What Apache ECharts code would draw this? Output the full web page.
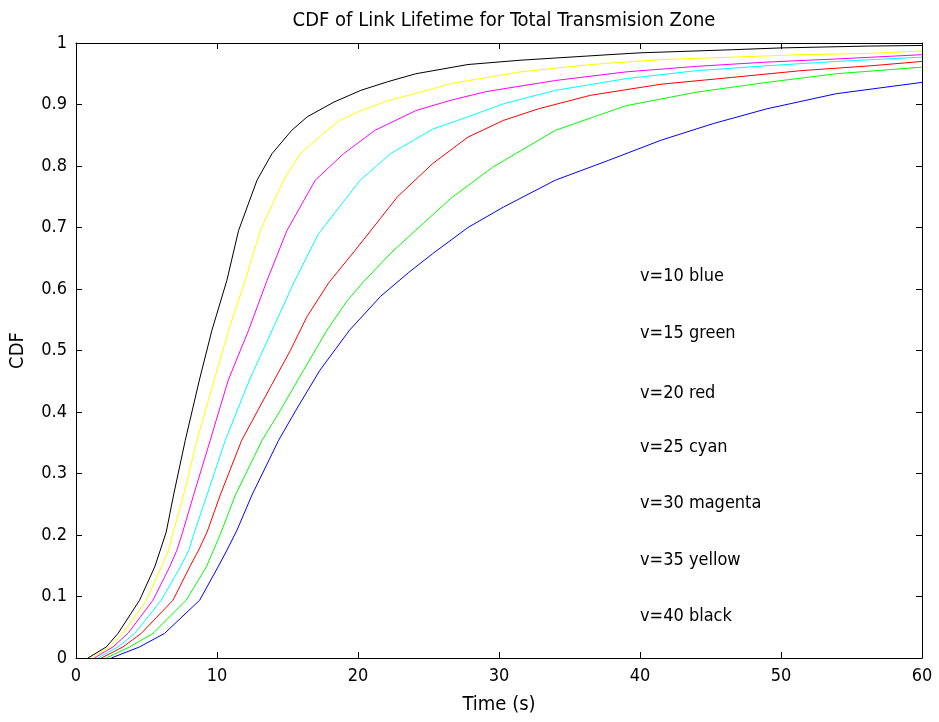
<!DOCTYPE html>
<html>
<head>
<meta charset="utf-8">
<script src="https://cdn.jsdelivr.net/npm/echarts@6/dist/echarts.min.js"></script>
<style>
html,body{margin:0;padding:0;background:#fff;}
#chart{width:939px;height:722px;}
</style>
</head>
<body>
<div id="chart"></div>
<script>
// [time (s), CDF] pairs
const v10blue = [[2.5,0],[4.51,0.018],[6.28,0.04],[8.77,0.094],[10.07,0.148],[10.71,0.1755],[11.42,0.208],[12.48,0.265],[14.37,0.354],[15.6,0.403],[17.3,0.468],[19.4,0.533],[21.6,0.588],[23.6,0.627],[25.3,0.6575],[27.8,0.70],[30.3,0.733],[34,0.777],[37.75,0.809],[41.5,0.842],[45.2,0.869],[49,0.893],[53.9,0.9175],[60,0.936]];
const v15green = [[2.15,0],[3.8,0.018],[5.46,0.04],[7.82,0.094],[9.24,0.148],[9.76,0.1755],[10.3,0.205],[11.3,0.265],[13.2,0.354],[14.5,0.403],[16.14,0.468],[17.8,0.533],[19.2,0.58],[20.4,0.612],[22.4,0.66],[24.07,0.695],[26.56,0.747],[29.55,0.798],[34,0.858],[39,0.898],[44,0.92],[49,0.936],[53.9,0.95],[60,0.9607]];
const v20red = [[1.8,0],[3.33,0.018],[4.63,0.04],[6.88,0.094],[8.06,0.148],[8.7,0.1755],[9.3,0.205],[10.23,0.265],[11.75,0.354],[13.8,0.441],[15.2,0.5],[16.38,0.555],[17.92,0.61],[19.8,0.663],[21.6,0.715],[22.8,0.75],[25.3,0.804],[27.8,0.847],[30.3,0.874],[32.8,0.893],[36.5,0.915],[41.5,0.933],[46.5,0.944],[51.4,0.955],[56.4,0.963],[60,0.97]];
const v25cyan = [[1.56,0],[2.98,0.018],[4.16,0.04],[6.05,0.094],[7.4,0.148],[8.0,0.1755],[8.4,0.205],[9.29,0.265],[10.59,0.354],[12.3,0.452],[13.85,0.53],[15.4,0.608],[17.2,0.69],[20.16,0.777],[22.3,0.82],[25.3,0.86],[27.8,0.88],[30.3,0.901],[34,0.923],[39,0.942],[44,0.955],[49,0.963],[53.9,0.97],[60,0.977]];
const v30magenta = [[1.3,0],[2.62,0.018],[3.69,0.04],[5.46,0.094],[6.64,0.148],[7.16,0.1755],[7.54,0.203],[8.34,0.265],[9.52,0.354],[10.8,0.452],[12.24,0.533],[13.55,0.614],[14.96,0.695],[16.97,0.777],[18.98,0.82],[21.2,0.858],[24.1,0.89],[26.6,0.907],[29.1,0.921],[34,0.939],[39,0.953],[44,0.962],[49,0.969],[53.9,0.974],[60,0.981]];
const v35yellow = [[1.09,0],[2.38,0.018],[3.33,0.04],[4.99,0.094],[6.05,0.148],[6.57,0.1755],[6.88,0.203],[7.63,0.265],[8.58,0.354],[9.8,0.452],[10.83,0.533],[12.0,0.614],[13.07,0.695],[14.72,0.777],[15.9,0.82],[17.8,0.858],[18.7,0.874],[20.2,0.89],[22.1,0.906],[24.1,0.918],[26.6,0.934],[31.5,0.953],[36.5,0.965],[41.5,0.973],[46.5,0.977],[51.4,0.981],[56.2,0.983],[60,0.987]];
const v40black = [[0.85,0],[2.15,0.018],[2.98,0.04],[4.51,0.094],[5.58,0.148],[5.98,0.1755],[6.4,0.205],[6.92,0.265],[7.75,0.354],[8.75,0.452],[9.64,0.533],[10.7,0.614],[11.53,0.695],[12.84,0.777],[13.9,0.82],[15.3,0.858],[16.4,0.88],[18.3,0.904],[20.2,0.923],[22.1,0.937],[24.1,0.95],[27.8,0.965],[31.5,0.972],[37.8,0.981],[40,0.984],[46.5,0.989],[50,0.992],[56.2,0.995],[60,0.996]];

const annotations = [[40,0.62,'v=10 blue'],[40,0.528,'v=15 green'],[40,0.43,'v=20 red'],[40,0.343,'v=25 cyan'],[40,0.252,'v=30 magenta'],[40,0.159,'v=35 yellow'],[40,0.068,'v=40 black']];

const titleText = 'CDF of Link Lifetime for Total Transmision Zone';
const xName = 'Time (s)';
const yName = 'CDF';

const FONT = '"DejaVu Sans Condensed","Liberation Sans Narrow","Liberation Sans",sans-serif';

const chart = echarts.init(document.getElementById('chart'), null, {renderer:'canvas'});

function mkLine(name, data, color){
  return {name:name, type:'line', data:data, showSymbol:false, smooth:false,
    lineStyle:{color:color, width:1}, itemStyle:{color:color}, xAxisIndex:0, yAxisIndex:0, z:2};
}

const axisCommon = {
  type:'value',
  axisLine:{show:true, onZero:false, lineStyle:{color:'#000', width:1}},
  axisTick:{show:true, inside:true, length:6, lineStyle:{color:'#000'}},
  splitLine:{show:false},
  axisLabel:{color:'#000', fontSize:18, fontFamily:FONT}
};

chart.setOption({
  animation:false,
  backgroundColor:'#fff',
  title:{text:titleText, left:499, top:6, textAlign:'center',
    textStyle:{fontSize:20, fontWeight:'normal', color:'#000', fontFamily:FONT}},
  grid:{left:76, right:17, top:43, bottom:64, containLabel:false},
  xAxis:[
    Object.assign({}, axisCommon, {min:0, max:60, interval:10, position:'bottom',
      name:xName, nameLocation:'middle', nameGap:37,
      nameTextStyle:{color:'#000', fontSize:20, fontFamily:FONT},
      axisLabel:Object.assign({}, axisCommon.axisLabel, {margin:9})}),
    Object.assign({}, axisCommon, {min:0, max:60, interval:10, position:'top',
      axisLabel:{show:false}})
  ],
  yAxis:[
    Object.assign({}, axisCommon, {min:0, max:1, interval:0.1, position:'left',
      name:yName, nameLocation:'middle', nameGap:48, nameRotate:90,
      nameTextStyle:{color:'#000', fontSize:20, fontFamily:FONT},
      axisLabel:Object.assign({}, axisCommon.axisLabel, {margin:9,
        formatter:function(v){return String(Math.round(v*10)/10);}})}),
    Object.assign({}, axisCommon, {min:0, max:1, interval:0.1, position:'right',
      axisLabel:{show:false}})
  ],
  series:[
    mkLine('v=10', v10blue, '#0000ff'),
    mkLine('v=15', v15green, '#00ff00'),
    mkLine('v=20', v20red, '#ff0000'),
    mkLine('v=25', v25cyan, '#00ffff'),
    mkLine('v=30', v30magenta, '#ff00ff'),
    mkLine('v=35', v35yellow, '#ffff00'),
    mkLine('v=40', v40black, '#000000'),
    {type:'scatter', data:annotations, symbolSize:0, xAxisIndex:0, yAxisIndex:0, silent:true,
      itemStyle:{color:'#000', opacity:1},
      label:{show:true, position:'right', distance:0, color:'#000', opacity:1, fontSize:18, fontFamily:FONT,
        textBorderWidth:0, formatter:function(p){return p.data[2];}}}
  ]
});
</script>
</body>
</html>
